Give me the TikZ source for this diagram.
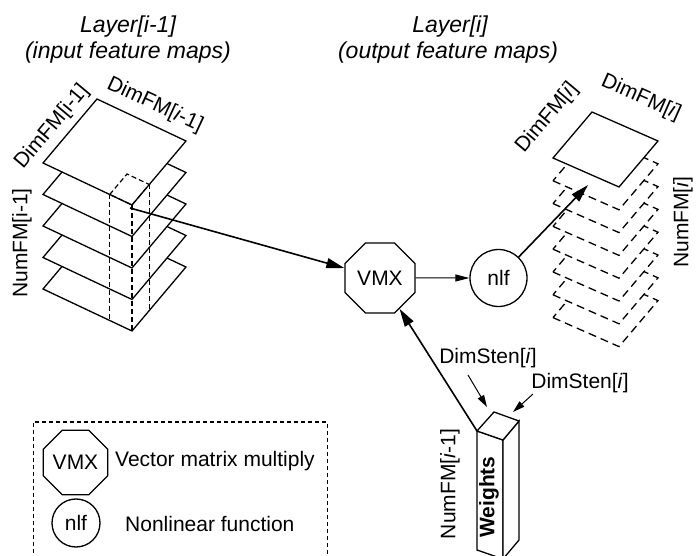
\documentclass[tikz,border=0pt]{standalone}
\usepackage{fontspec}
\setmainfont{Liberation Sans}
\usetikzlibrary{shapes.geometric,arrows.meta}
\begin{document}
\begin{tikzpicture}[x=1pt,y=-1pt, font=\fontsize{21}{25}\selectfont,
 sheet/.style={draw=black, line width=1.3pt, fill=white, line join=miter},
 dsheet/.style={sheet, dash pattern=on 8pt off 5pt},
 dcol/.style={draw, line width=1.2pt, dash pattern=on 5pt off 3pt},
 bigarrow/.style={line width=1.6pt, -{Triangle[length=18pt,width=10pt]}},
 smallarrow/.style={line width=1pt, -{Triangle[length=12pt,width=7pt]}},
 octa/.style={regular polygon, regular polygon sides=8, draw, line width=1.3pt, inner sep=0pt, fill=white},
 circ/.style={circle, draw, line width=1.3pt, inner sep=0pt, fill=white},
 lbl/.style={inner sep=0pt},
 head/.style={inner sep=0pt, font=\fontsize{23}{27}\selectfont\itshape},
 legendbox/.style={line width=1pt, dash pattern=on 4pt off 3pt}]
\useasboundingbox (0,0) rectangle (697,556);
\clip (0,0) rectangle (697,556);

% headings
\node[head] (h1) at (128,27) {Layer[i-1]};
\node[head] (h2) at (128,53) {(input feature maps)};
\node[head] (h3) at (450,27) {Layer[i]};
\node[head] (h4) at (448,53) {(output feature maps)};

% input stack
\foreach \k in {4,3,2,1,0} {
  \draw[sheet] (43,{163+31.5*\k}) -- ++(89,42) -- ++(54,-64) -- ++(-89,-42) -- cycle;
}
\draw[dcol] (109.75,194.5) -- (127,174) -- (149.3,184.5) -- (132,205) -- cycle;
\draw[dcol] (109.75,194.5) -- (109.75,320.5);
\draw[dcol] (132,205) -- (132,331);
\draw[dcol] (149.3,184.5) -- (149.3,310.5);
\coordinate (colpt) at (130,208);

\node[lbl, rotate=50] (dimin1) at (52,127) {DimFM[i-1]};
\node[lbl, rotate=-25] (dimin2) at (155,105) {DimFM[\textit{i}-1]};
\node[lbl, rotate=90] (numin) at (22,243) {NumFM[i-1]};

% output stack
\foreach \k in {7,6,5,4,3,2,1} {
  \draw[dsheet] (553,{158+22.8*\k}) -- ++(66,29) -- ++(39,-46) -- ++(-66,-29) -- cycle;
}
\draw[sheet] (553,158) -- ++(66,29) -- ++(39,-46) -- ++(-66,-29) -- cycle;
\coordinate (outpt) at (588,185);

\node[lbl, rotate=50] (dimout1) at (547,118) {DimFM[\textit{i}]};
\node[lbl, rotate=-24] (dimout2) at (641,98) {DimFM[\textit{i}]};
\node[lbl, rotate=90] (numout) at (683,222) {NumFM[\textit{i}]};

% operators
\node[octa, minimum size=75.8pt] (vmx) at (380,278) {VMX};
\node[circ, minimum size=57pt] (nlf) at (498.5,278) {nlf};

\draw[bigarrow] (colpt) -- (vmx);
\draw[line width=1pt, -{Triangle[length=14pt,width=7pt]}] (vmx) -- (nlf);
\draw[bigarrow] (nlf) -- (outpt);

% weights box
\draw[sheet] (477,431) -- (503,440) -- (503,559) -- (477,550) -- cycle;
\draw[sheet] (503,440) -- (519,421) -- (519,540) -- (503,559) -- cycle;
\draw[sheet] (477,431) -- (503,440) -- (519,421) -- (494,412) -- cycle;
\coordinate (wtl) at (477,431);
\coordinate (wfront) at (487,407);
\coordinate (wback) at (513,412);
\node[lbl, rotate=90, font=\fontsize{21}{25}\selectfont\bfseries] (wlabel) at (489,497) {Weights};
\node[lbl, rotate=90] (numw) at (450,484) {NumFM[\textit{i}-1]};

\draw[bigarrow] (wtl) -- (vmx);

\node[lbl] (ds1) at (488,358) {DimSten[\textit{i}]};
\node[lbl] (ds2) at (580,383) {DimSten[\textit{i}]};
\coordinate (ds1s) at (468,375);
\coordinate (ds2s) at (533,394);
\draw[smallarrow] (ds1s) -- (wfront);
\draw[smallarrow] (ds2s) -- (wback);

% legend
\draw[legendbox] (33,560) -- (33,422) -- (327,422) -- (327,560);
\node[octa, minimum size=63.9pt] (lvmx) at (75.5,462.5) {VMX};
\node[lbl, anchor=west] (lvmxt) at (115,461) {Vector matrix multiply};
\node[circ, minimum size=48pt] (lnlf) at (76,523) {nlf};
\node[lbl, anchor=west] (lnlft) at (125,524) {Nonlinear function};
\end{tikzpicture}
\end{document}
